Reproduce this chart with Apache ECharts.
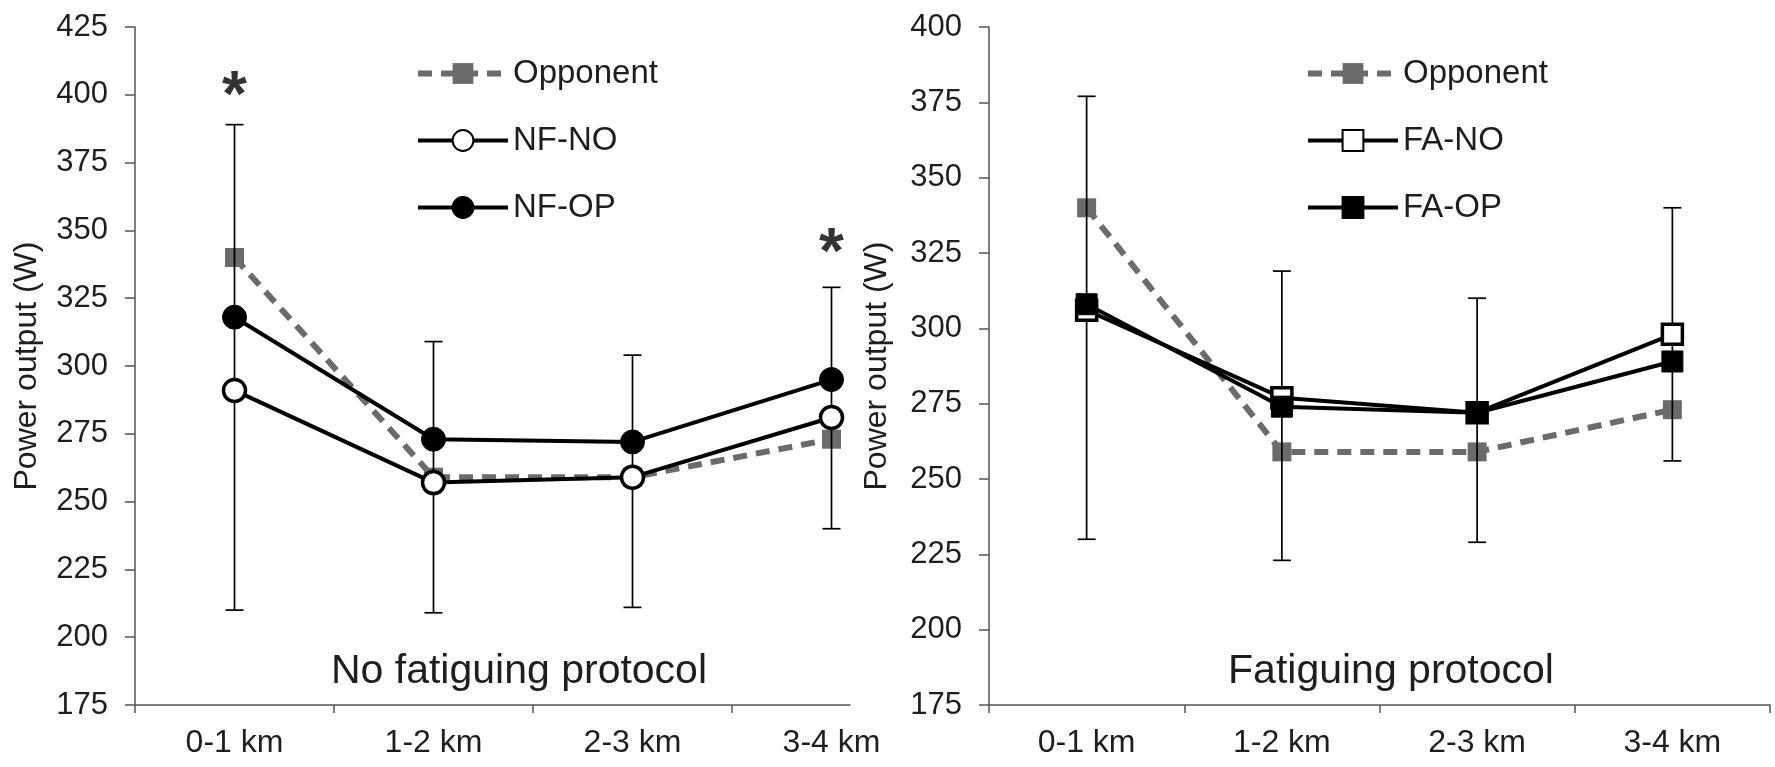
<!DOCTYPE html>
<html>
<head>
<meta charset="utf-8">
<script src="https://cdn.jsdelivr.net/npm/echarts@6/dist/echarts.min.js"></script>
<style>
  html, body { margin: 0; padding: 0; background: #fff; }
  #main { width: 1775px; height: 767px; }
</style>
</head>
<body>
<div id="main"></div>
<script>
// categories (km segments)
const categories = ['0-1 km', '1-2 km', '2-3 km', '3-4 km'];
const yTicksLeft = [175, 425];   // min / max of the left axis
const yTicksRight = [175, 400];  // min / max of the right axis

// No fatiguing protocol
const opponentLeft = [340, 259, 259, 273];
const nfNo = [291, 257, 259, 281];
const nfOp = [318, 273, 272, 295];
const errLowLeft = [210, 209, 211, 240];
const errHighLeft = [389, 309, 304, 329];
const sigLeft = [[0, 404], [3, 346]];

// Fatiguing protocol
const opponentRight = [340, 259, 259, 273];
const faNo = [306, 277, 272, 298];
const faOp = [308, 274, 272, 289];
const errLowRight = [230, 223, 229, 256];
const errHighRight = [377, 319, 310, 340];

const FONT = 'Liberation Sans';
const GREY = '#6b6b6b';
const TXT = '#1e1e1e';
const AXIS = '#555';

const toXY = (arr) => arr.map((v, i) => [i, v]);
const toErr = (lo, hi) => lo.map((v, i) => [i, v, hi[i]]);

function errorBars(idx, lo, hi) {
  return {
    type: 'custom',
    xAxisIndex: idx,
    yAxisIndex: idx,
    z: 3,
    silent: true,
    data: toErr(lo, hi),
    renderItem: function (params, api) {
      const top = api.coord([api.value(0), api.value(2)]);
      const bot = api.coord([api.value(0), api.value(1)]);
      const w = 9;
      const style = { stroke: '#000', lineWidth: 1.7 };
      return {
        type: 'group',
        children: [
          { type: 'line', shape: { x1: top[0], y1: top[1], x2: bot[0], y2: bot[1] }, style: style },
          { type: 'line', shape: { x1: top[0] - w, y1: top[1], x2: top[0] + w, y2: top[1] }, style: style },
          { type: 'line', shape: { x1: bot[0] - w, y1: bot[1], x2: bot[0] + w, y2: bot[1] }, style: style }
        ]
      };
    }
  };
}

function opponentSeries(idx, data) {
  return {
    name: 'Opponent',
    type: 'line',
    xAxisIndex: idx,
    yAxisIndex: idx,
    z: 2,
    data: toXY(data),
    symbol: 'rect',
    symbolSize: 19,
    itemStyle: { color: GREY },
    lineStyle: { color: GREY, width: 6, type: [14, 9] }
  };
}

function mainSeries(idx, name, data, symbol, filled, size) {
  return {
    name: name,
    type: 'line',
    xAxisIndex: idx,
    yAxisIndex: idx,
    z: 4,
    data: toXY(data),
    symbol: symbol,
    symbolSize: size,
    itemStyle: filled
      ? { color: '#000', borderColor: '#000', borderWidth: 1 }
      : { color: '#fff', borderColor: '#000', borderWidth: 3.5 },
    lineStyle: { color: '#000', width: 4 }
  };
}

function xAxis(idx, max, tickVals) {
  return {
    type: 'value',
    gridIndex: idx,
    min: -0.5,
    max: max,
    splitLine: { show: false },
    axisLine: { show: true, onZero: false, lineStyle: { color: AXIS, width: 1.5 } },
    axisTick: { show: true, customValues: tickVals, length: 8, lineStyle: { color: AXIS, width: 1.5 } },
    axisLabel: {
      customValues: [0, 1, 2, 3],
      formatter: (v) => categories[Math.round(v)],
      fontFamily: FONT, fontSize: 32, color: TXT, margin: 22
    }
  };
}

function yAxis(idx, range, gap) {
  return {
    type: 'value',
    gridIndex: idx,
    min: range[0],
    max: range[1],
    interval: 25,
    name: 'Power output (W)',
    nameLocation: 'middle',
    nameGap: gap,
    nameTextStyle: { fontFamily: FONT, fontSize: 32, color: TXT },
    splitLine: { show: false },
    axisLine: { show: true, onZero: false, lineStyle: { color: AXIS, width: 1.5 } },
    axisTick: { show: true, length: 10, lineStyle: { color: AXIS, width: 1.5 } },
    axisLabel: { fontFamily: FONT, fontSize: 31, color: TXT, margin: 27 }
  };
}

function legend(names, left) {
  return {
    orient: 'vertical',
    left: left,
    top: 52,
    itemWidth: 90,
    itemHeight: 26,
    itemGap: 34,
    selectedMode: false,
    data: names,
    lineStyle: { width: 'inherit', type: 'inherit' },
    textStyle: { fontFamily: FONT, fontSize: 33, color: TXT, padding: [0, 0, 0, 0] }
  };
}

const chart = echarts.init(document.getElementById('main'));

const option = {
  backgroundColor: '#fff',
  animation: false,
  title: [
    {
      text: 'No fatiguing protocol',
      left: 514, top: 646, textAlign: 'center',
      textStyle: { fontFamily: FONT, fontSize: 41, fontWeight: 'normal', color: TXT }
    },
    {
      text: 'Fatiguing protocol',
      left: 1386, top: 646, textAlign: 'center',
      textStyle: { fontFamily: FONT, fontSize: 41, fontWeight: 'normal', color: TXT }
    }
  ],
  legend: [
    legend(['Opponent', 'NF-NO', 'NF-OP'], 410),
    legend(['Opponent', 'FA-NO', 'FA-OP'], 1300)
  ],
  grid: [
    { left: 135, right: 925, top: 27, bottom: 62 },
    { left: 989, right: 5, top: 27, bottom: 62 }
  ],
  xAxis: [
    xAxis(0, 3.093, [-0.5, 0.5, 1.5, 2.5]),
    xAxis(1, 3.5, [-0.5, 0.5, 1.5, 2.5, 3.5])
  ],
  yAxis: [
    yAxis(0, yTicksLeft, 92),
    yAxis(1, yTicksRight, 96)
  ],
  series: [
    opponentSeries(0, opponentLeft),
    errorBars(0, errLowLeft, errHighLeft),
    mainSeries(0, 'NF-NO', nfNo, 'circle', false, 22),
    mainSeries(0, 'NF-OP', nfOp, 'circle', true, 24),
    {
      type: 'scatter',
      xAxisIndex: 0,
      yAxisIndex: 0,
      silent: true,
      symbolSize: 0.01,
      itemStyle: { color: 'rgba(0,0,0,0)' },
      data: sigLeft,
      label: {
        show: true,
        position: 'inside',
        formatter: '*',
        fontFamily: FONT,
        fontSize: 64,
        fontWeight: 'bold',
        color: '#000',
        offset: [0, 14]
      }
    },
    opponentSeries(1, opponentRight),
    errorBars(1, errLowRight, errHighRight),
    mainSeries(1, 'FA-NO', faNo, 'rect', false, 20),
    mainSeries(1, 'FA-OP', faOp, 'rect', true, 21)
  ]
};

chart.setOption(option);
</script>
</body>
</html>
